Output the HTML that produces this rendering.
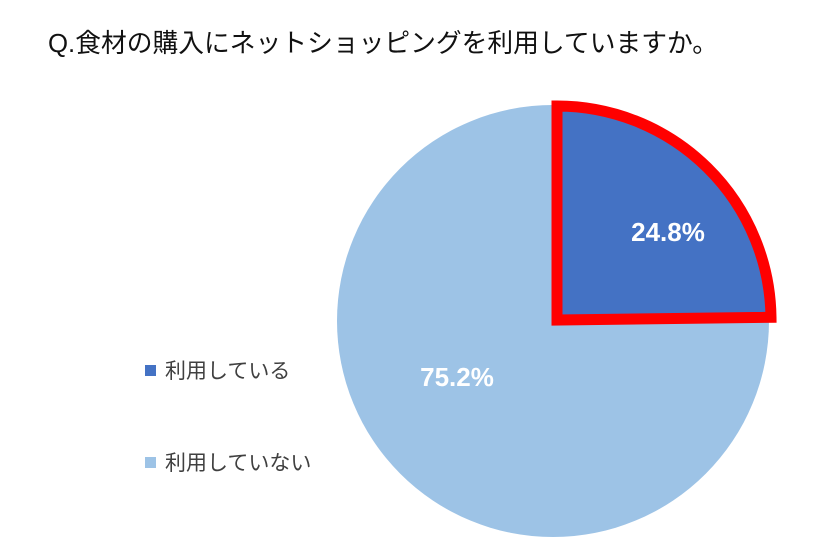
<!DOCTYPE html>
<html><head><meta charset="utf-8"><style>
body{margin:0;background:#fff;width:840px;height:554px;overflow:hidden;font-family:"Liberation Sans","Noto Sans CJK JP",sans-serif}
</style></head><body>
<svg width="840" height="554" xmlns="http://www.w3.org/2000/svg">
<text x="48" y="52" font-size="26" fill="#111" textLength="670" lengthAdjust="spacingAndGlyphs" font-family="Liberation Sans, Noto Sans CJK JP, sans-serif">Q.食材の購入にネットショッピングを利用していますか。</text>
<circle cx="553" cy="321" r="216" fill="#9dc3e6"/>
<path d="M557,320 L557,106 A214,214 0 0 1 771,317.3 Z" fill="#4472c4" stroke="#ff0000" stroke-width="11" stroke-linejoin="miter"/>
<text x="668" y="241" font-size="26" font-weight="bold" fill="#fff" text-anchor="middle" font-family="Liberation Sans, sans-serif">24.8%</text>
<text x="457" y="386" font-size="26" font-weight="bold" fill="#fff" text-anchor="middle" font-family="Liberation Sans, sans-serif">75.2%</text>
<rect x="145" y="365" width="11" height="11" fill="#4472c4"/>
<text x="165" y="378" font-size="21" fill="#404040">利用している</text>
<rect x="145" y="457" width="11" height="11" fill="#9dc3e6"/>
<text x="165" y="470" font-size="21" fill="#404040">利用していない</text>
</svg>
</body></html>
